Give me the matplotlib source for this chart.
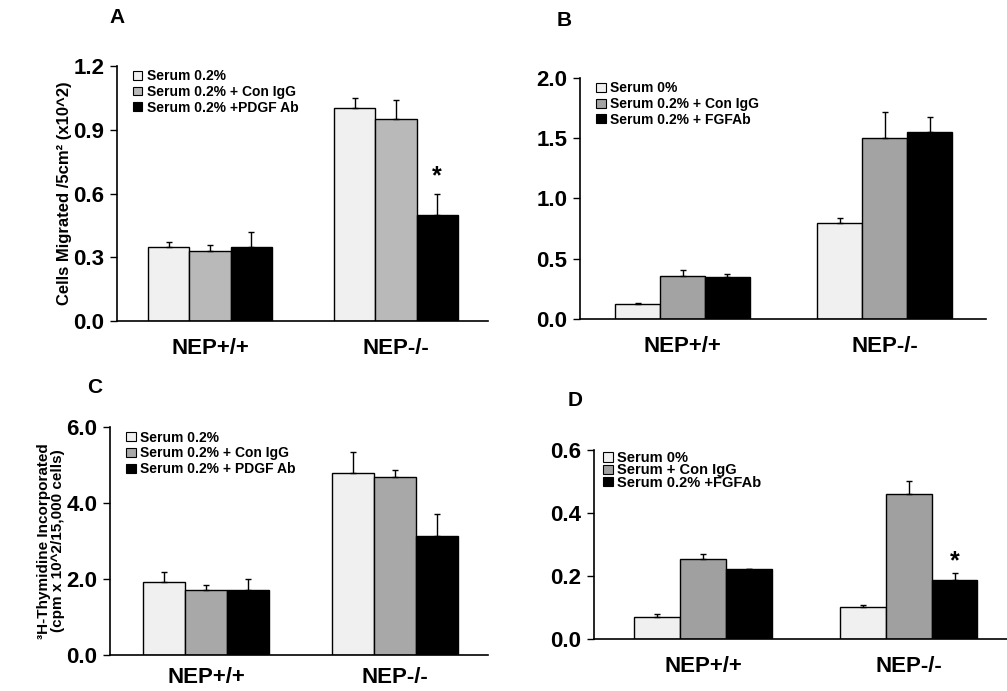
import numpy as np
import matplotlib
matplotlib.use("Agg")
from matplotlib import pyplot as plt
from matplotlib.patches import Patch

plt.rcParams['font.family'] = ['Liberation Sans', 'DejaVu Sans']
plt.rcParams['font.weight'] = 'bold'

groups = ['NEP+/+', 'NEP-/-']

# panel A - cell migration, PDGF Ab
a_labels = ['Serum 0.2%', 'Serum 0.2% + Con IgG', 'Serum 0.2% +PDGF Ab']
a_vals = [[0.35, 1.00], [0.33, 0.95], [0.35, 0.50]]
a_errs = [[0.02, 0.05], [0.03, 0.09], [0.07, 0.10]]

# panel B - cell migration, FGF Ab
b_labels = ['Serum 0%', 'Serum 0.2% + Con IgG', 'Serum 0.2% + FGFAb']
b_vals = [[0.124, 0.80], [0.354, 1.50], [0.345, 1.55]]
b_errs = [[0.005, 0.04], [0.05, 0.22], [0.03, 0.13]]

# panel C - thymidine, PDGF Ab
c_labels = ['Serum 0.2%', 'Serum 0.2% + Con IgG', 'Serum 0.2% + PDGF Ab']
c_vals = [[1.92, 4.80], [1.71, 4.69], [1.72, 3.14]]
c_errs = [[0.26, 0.53], [0.13, 0.19], [0.27, 0.56]]

# panel D - thymidine, FGF Ab
d_labels = ['Serum 0%', 'Serum + Con IgG', 'Serum 0.2% +FGFAb']
d_vals = [[0.069, 0.103], [0.254, 0.459], [0.221, 0.186]]
d_errs = [[0.010, 0.004], [0.016, 0.041], [0.0, 0.024]]


def panel(ax, vals, errs, labels, colors, ylim, ticks, xlim, star=None, xpad=14,
          lsize=10, lspace=0.12, lanchor=(0.02, 1.02)):
    x = np.arange(len(groups))
    w = 0.222
    for i in range(3):
        ax.bar(x + (i - 1) * w, vals[i], w, color=colors[i], edgecolor='black',
               linewidth=1.0, yerr=[np.zeros(2), errs[i]], capsize=2.5,
               error_kw=dict(ecolor='black', elinewidth=1.0, capthick=1.0),
               zorder=2)
    ax.set_ylim(*ylim)
    ax.set_xlim(*xlim)
    ax.set_yticks(ticks)
    ax.set_yticklabels(['%.1f' % t for t in ticks], fontsize=16, fontweight='bold')
    ax.set_xticks(x)
    ax.set_xticklabels(groups, fontsize=16, fontweight='bold')
    ax.tick_params(axis='x', length=0, pad=xpad)
    ax.tick_params(axis='y', direction='out', length=5, width=1, pad=4)
    ax.spines['top'].set_visible(False)
    ax.spines['right'].set_visible(False)
    ax.spines['left'].set_linewidth(1.2)
    ax.spines['bottom'].set_linewidth(1.2)
    handles = [Patch(facecolor=colors[i], edgecolor='black', linewidth=0.8)
               for i in range(3)]
    ax.legend(handles, labels, loc='upper left', bbox_to_anchor=lanchor,
              frameon=False, handlelength=0.7, handleheight=0.6,
              handletextpad=0.3, labelspacing=lspace, borderaxespad=0.2,
              prop=dict(weight='bold', size=lsize))
    if star is not None:
        ax.text(1 + w, star, '*', ha='center', va='center', fontsize=18,
                fontweight='bold')


fig = plt.figure(figsize=(10.07, 6.91), dpi=100)

axA = fig.add_axes([0.1162, 0.5354, 0.3684, 0.3691])
panel(axA, a_vals, a_errs, a_labels, ['#f0f0f0', '#b9b9b9', '#000000'],
      (0, 1.2), [0.0, 0.3, 0.6, 0.9, 1.2], (-0.5, 1.495), star=0.68, xpad=12)
axA.set_ylabel('Cells Migrated /5cm² (x10^2)', fontsize=12,
               fontweight='bold', labelpad=1)

axB = fig.add_axes([0.576, 0.5384, 0.403, 0.3488])
panel(axB, b_vals, b_errs, b_labels, ['#f0f0f0', '#a3a3a3', '#000000'],
      (0, 2.0), [0.0, 0.5, 1.0, 1.5, 2.0], (-0.507, 1.5), xpad=12)

axC = fig.add_axes([0.1092, 0.0521, 0.3754, 0.33])
panel(axC, c_vals, c_errs, c_labels, ['#f0f0f0', '#a8a8a8', '#000000'],
      (0, 6.0), [0.0, 2.0, 4.0, 6.0], (-0.508, 1.49), xpad=9)
axC.set_ylabel('³H-Thymidine Incorporated\n(cpm x 10^2/15,000 cells)',
               fontsize=11, fontweight='bold', labelpad=1, linespacing=1.0)

axD = fig.add_axes([0.5899, 0.0753, 0.41, 0.2735])
panel(axD, d_vals, d_errs, d_labels, ['#f0f0f0', '#a0a0a0', '#000000'],
      (0, 0.6), [0.0, 0.2, 0.4, 0.6], (-0.529, 1.476), star=0.245, xpad=12,
      lsize=10.5, lspace=-0.12, lanchor=(0.0, 1.04))

fig.text(0.109, 0.974, 'A', fontsize=15, fontweight='bold', ha='left', va='center')
fig.text(0.553, 0.971, 'B', fontsize=15, fontweight='bold', ha='left', va='center')
fig.text(0.087, 0.439, 'C', fontsize=15, fontweight='bold', ha='left', va='center')
fig.text(0.564, 0.421, 'D', fontsize=15, fontweight='bold', ha='left', va='center')

fig.savefig('out.png', dpi=100)
